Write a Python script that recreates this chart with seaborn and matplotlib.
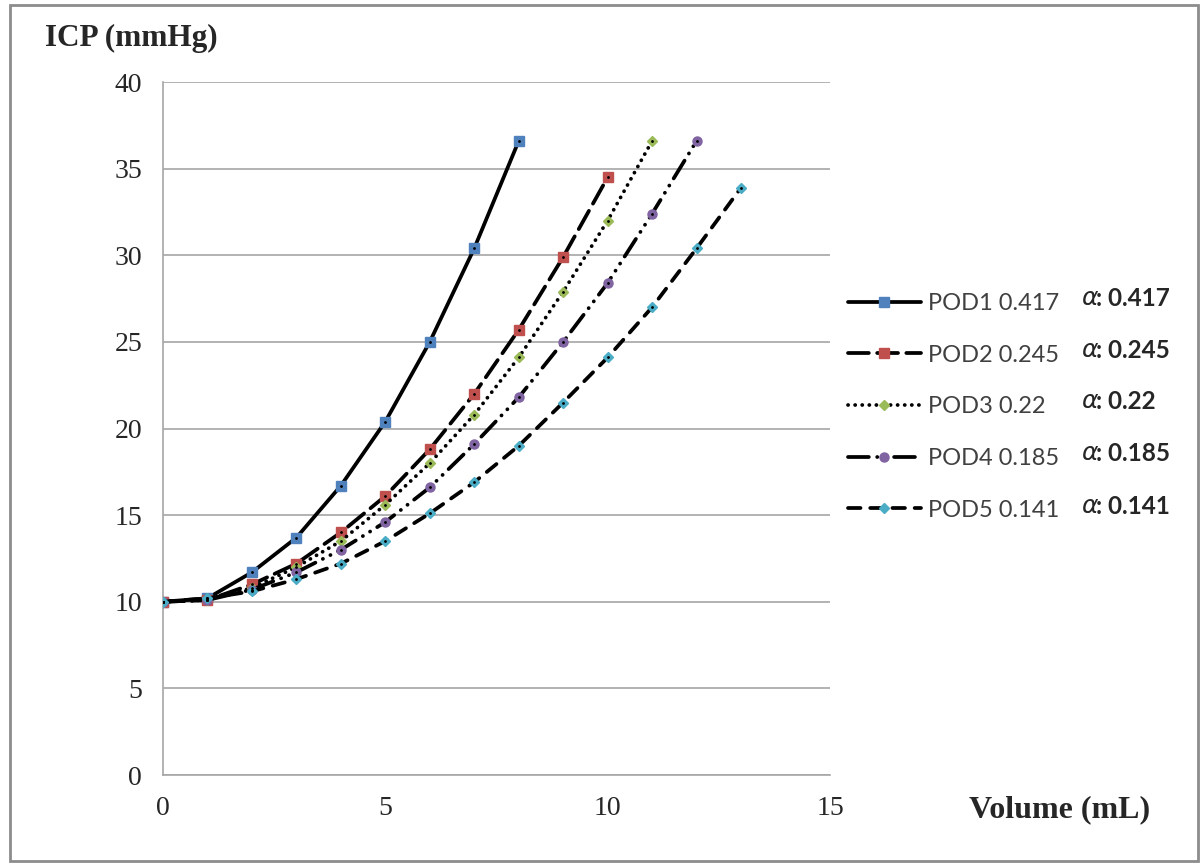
import matplotlib
matplotlib.use("Agg")
import matplotlib.pyplot as plt
import seaborn as sns
import pandas as pd
from matplotlib.patches import Rectangle

names = ["POD1", "POD2", "POD3", "POD4", "POD5"]
alphas = ["0.417", "0.245", "0.22", "0.185", "0.141"]

pod1 = [10, 10.2, 11.7, 13.7, 16.7, 20.4, 25.0, 30.4, 36.6]
pod2 = [10, 10.1, 11.0, 12.2, 14.0, 16.1, 18.8, 22.0, 25.7, 29.9, 34.5]
pod3 = [10, 10.1, 10.8, 12.0, 13.5, 15.6, 18.0, 20.8, 24.1, 27.9, 32.0, 36.6]
pod4 = [10, 10.1, 10.7, 11.7, 13.0, 14.6, 16.6, 19.1, 21.8, 25.0, 28.4, 32.4, 36.6]
pod5 = [10, 10.2, 10.6, 11.3, 12.2, 13.5, 15.1, 16.9, 19.0, 21.5, 24.1, 27.0, 30.4, 33.9]
series = [pod1, pod2, pod3, pod4, pod5]

colors = ["#4F81BD", "#C0504D", "#9BBB59", "#8064A2", "#4BACC6"]
markers = ["s", "s", "D", "o", "D"]
msizes = [6.5, 6.5, 5.5, 6.5, 5.5]
styles = ["-", (0, (15, 6)), (0, (0.1, 5)), (0, (15, 6, 0.1, 6, 0.1, 6)), (0, (9, 7))]

sns.set_style("white")
plt.rcParams["lines.scale_dashes"] = False

fig = plt.figure(figsize=(12.02, 8.63), dpi=100)
ax = fig.add_axes([163 / 1202, 1 - 775 / 863, (830 - 163) / 1202, (775 - 82) / 863])

for i, vals in enumerate(series):
    df = pd.DataFrame({"volume": list(range(len(vals))), "icp": vals})
    sns.lineplot(data=df, x="volume", y="icp", ax=ax, color="black", linewidth=2.7,
                 linestyle=styles[i], dash_capstyle="round", marker=markers[i],
                 markersize=msizes[i], markerfacecolor=colors[i],
                 markeredgecolor=colors[i], markeredgewidth=1,
                 label=f"{names[i]} {alphas[i]}", zorder=3)
    ax.plot(df["volume"], df["icp"], color="black", linewidth=1.2, linestyle="none",
            marker=".", markersize=2, zorder=4)

ax.set_xlim(0, 15)
ax.set_ylim(0, 40)
ax.set_xticks([0, 5, 10, 15])
ax.set_yticks(range(0, 41, 5))
ax.yaxis.grid(True, color="#A6A6A6", linewidth=1.2)
ax.xaxis.grid(False)
ax.set_axisbelow(True)
for side in ["top", "right"]:
    ax.spines[side].set_visible(False)
for side in ["left", "bottom"]:
    ax.spines[side].set_color("#A6A6A6")
    ax.spines[side].set_linewidth(1.2)
ax.tick_params(axis="both", direction="out", length=7, width=1.2, color="#A6A6A6",
               labelsize=20, pad=8)
for lab in ax.get_xticklabels() + ax.get_yticklabels():
    lab.set_fontfamily("Liberation Serif")
ax.set_xlabel("")
ax.set_ylabel("")

fig.text(45 / 1202, 1 - 38 / 863, "ICP (mmHg)", fontsize=22.5, fontweight="bold",
         family="Liberation Serif", va="center", ha="left")
fig.text(1150 / 1202, 1 - 810 / 863, "Volume (mL)", fontsize=23, fontweight="bold",
         family="Liberation Serif", va="center", ha="right")

leg = ax.legend(loc="upper left", bbox_to_anchor=(836 / 1202, 1 - 281 / 863),
                bbox_transform=fig.transFigure, frameon=False, handlelength=3.1,
                handletextpad=0.3, labelspacing=1.3, borderpad=0,
                prop={"family": "Lato", "size": 17})
for t in leg.get_texts():
    t.set_color("#404040")

rows = [298, 350, 401, 453, 506]
for y, a in zip(rows, alphas):
    fig.text(1081 / 1202, 1 - y / 863, "α", fontsize=18, style="italic",
             family="DejaVu Sans", va="center", ha="left")
    fig.text(1096 / 1202, 1 - y / 863, ": " + a, fontsize=17.5, fontweight="bold",
             family="Lato", va="center", ha="left")

fig.patches.append(Rectangle((10 / 1202, 2 / 863), 1188 / 1202, 856 / 863,
                             transform=fig.transFigure, fill=False,
                             edgecolor="#8C8C8C", linewidth=2))

fig.savefig("out.png", dpi=100)
